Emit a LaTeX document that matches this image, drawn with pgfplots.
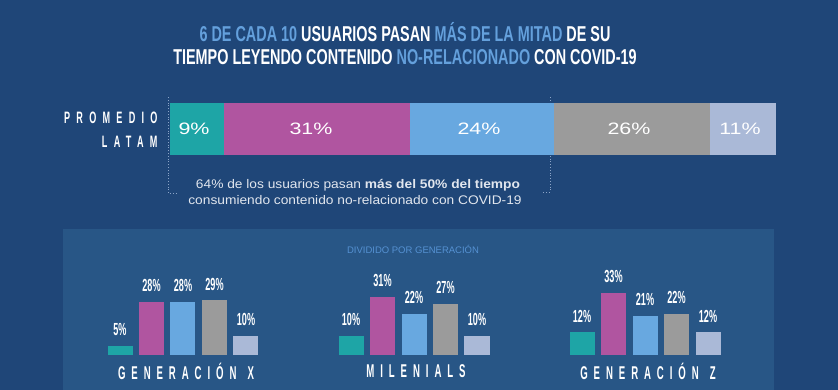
\documentclass[border=0pt]{standalone}
\usepackage{pgfplots}
\pgfplotsset{compat=1.18}
\usepackage{fontspec}
\setmainfont{Liberation Sans}
\newfontfamily\titlefont[FakeStretch=0.67]{Liberation Sans}
\newfontfamily\genfont[FakeStretch=0.52]{Liberation Sans}
\newfontfamily\promfont[FakeStretch=0.55,LetterSpace=38]{Liberation Sans}
\newfontfamily\genlabfont[FakeStretch=0.52,LetterSpace=32]{Liberation Sans}
\newfontfamily\widefont[FakeStretch=1.3]{Liberation Sans}
\newfontfamily\subfont[FakeStretch=1.1]{Liberation Sans}
\definecolor{bgouter}{RGB}{31,70,120}
\definecolor{bgpanel}{RGB}{40,86,134}
\definecolor{hl}{RGB}{100,160,220}
\definecolor{cteal}{RGB}{30,165,166}
\definecolor{cmag}{RGB}{176,85,160}
\definecolor{cblue}{RGB}{104,168,224}
\definecolor{cgray}{RGB}{155,155,155}
\definecolor{cpale}{RGB}{170,185,215}
\definecolor{dotc}{RGB}{140,165,200}
\definecolor{subtxt}{RGB}{225,230,238}
\definecolor{divc}{RGB}{85,145,210}

\pgfplotsset{
  genaxis/.style={
    scale only axis, width=157.5pt, height=75.2pt,
    xmin=-0.5, xmax=4.5, ymin=0, ymax=40,
    hide axis, anchor=south west, clip=false,
    ybar, bar width=25pt,
    /pgf/number format/assume math mode=true,
    every axis plot/.append style={bar shift=0pt, draw=none},
    nodes near coords={\pgfmathprintnumber{\pgfplotspointmeta}\%},
    every node near coord/.append style={font=\genfont\bfseries\fontsize{17.5}{17.5}\selectfont, text=white, inner sep=0pt, yshift=10pt},
  }
}

\begin{document}
\begin{tikzpicture}[x=1pt,y=1pt]
\fill[bgouter] (0,0) rectangle (838,390);
\fill[bgpanel] (63,0) rectangle (774,161);

% title
\node[font=\titlefont\bfseries\fontsize{21.5}{21.5}\selectfont, text=white] at (405,358)
  {\textcolor{hl}{6 DE CADA 10} USUARIOS PASAN \textcolor{hl}{MÁS DE LA MITAD} DE SU};
\node[font=\titlefont\bfseries\fontsize{21.5}{21.5}\selectfont, text=white] at (405,333)
  {TIEMPO LEYENDO CONTENIDO \textcolor{hl}{NO-RELACIONADO} CON COVID-19};

% left labels
\node[font=\promfont\bfseries\fontsize{16.5}{16.5}\selectfont, text=white, anchor=east] at (161,272) {PROMEDIO};
\node[font=\promfont\bfseries\fontsize{16.5}{16.5}\selectfont, text=white, anchor=east] at (161,248) {LATAM};

% dotted bracket
\draw[dotc, dotted, line width=0.8pt] (168,293) -- (168,197) -- (176,197);
\draw[dotc, dotted, line width=0.8pt] (550,293) -- (550,198) -- (542,198);

% stacked bar
\begin{axis}[at={(170pt,235pt)}, anchor=south west, scale only axis,
  width=606pt, height=52pt, xmin=0, xmax=101, ymin=0, ymax=1,
  hide axis, xbar stacked, bar width=52pt,
  every axis plot/.append style={draw=none}]
\addplot[fill=cteal] coordinates {(9,0.5)};
\addplot[fill=cmag] coordinates {(31,0.5)};
\addplot[fill=cblue] coordinates {(24,0.5)};
\addplot[fill=cgray] coordinates {(26,0.5)};
\addplot[fill=cpale] coordinates {(11,0.5)};
\end{axis}
\begin{axis}[at={(170pt,235pt)}, anchor=south west, scale only axis,
  width=606pt, height=52pt, xmin=0, xmax=101, ymin=0, ymax=1,
  hide axis, clip=false]
\addplot[draw=none, mark=none, nodes near coords, point meta=explicit symbolic,
  nodes near coords align=center,
  every node near coord/.append style={anchor=center, text=white, font=\widefont\fontsize{16.5}{16.5}\selectfont}]
  coordinates {(4,0.5) [9\%] (23.5,0.5) [31\%] (51.5,0.5) [24\%] (76.5,0.5) [26\%] (95,0.5) [11\%]};
\end{axis}

% note text
\node[font=\subfont\fontsize{12.5}{12.5}\selectfont, text=subtxt] at (358,205)
  {64\% de los usuarios pasan \textbf{más del 50\% del tiempo}};
\node[font=\subfont\fontsize{12.5}{12.5}\selectfont, text=subtxt] at (355,190)
  {consumiendo contenido no-relacionado con COVID-19};

% panel heading
\node[font=\fontsize{9.5}{9.5}\selectfont, text=divc] at (413,141) {DIVIDIDO POR GENERACIÓN};

% generation X
\begin{axis}[genaxis, at={(104.25pt,35pt)}]
\addplot[fill=cteal] coordinates {(0,5)};
\addplot[fill=cmag] coordinates {(1,28)};
\addplot[fill=cblue] coordinates {(2,28)};
\addplot[fill=cgray] coordinates {(3,29)};
\addplot[fill=cpale] coordinates {(4,10)};
\end{axis}
% milenials
\begin{axis}[genaxis, at={(335.25pt,35pt)}]
\addplot[fill=cteal] coordinates {(0,10)};
\addplot[fill=cmag] coordinates {(1,31)};
\addplot[fill=cblue] coordinates {(2,22)};
\addplot[fill=cgray] coordinates {(3,27)};
\addplot[fill=cpale] coordinates {(4,10)};
\end{axis}
% generation Z
\begin{axis}[genaxis, at={(566.25pt,35pt)}]
\addplot[fill=cteal] coordinates {(0,12)};
\addplot[fill=cmag] coordinates {(1,33)};
\addplot[fill=cblue] coordinates {(2,21)};
\addplot[fill=cgray] coordinates {(3,22)};
\addplot[fill=cpale] coordinates {(4,12)};
\end{axis}

\node[font=\genlabfont\bfseries\fontsize{18.5}{18.5}\selectfont, text=white] at (186,19) {GENERACIÓN\hspace{11pt}X};
\node[font=\genlabfont\bfseries\fontsize{18.5}{18.5}\selectfont, text=white] at (416,19) {MILENIALS};
\node[font=\genlabfont\bfseries\fontsize{18.5}{18.5}\selectfont, text=white] at (648,19) {GENERACIÓN\hspace{11pt}Z};

\pgfresetboundingbox
\path[use as bounding box] (0,0) rectangle (838,390);
\end{tikzpicture}
\end{document}
